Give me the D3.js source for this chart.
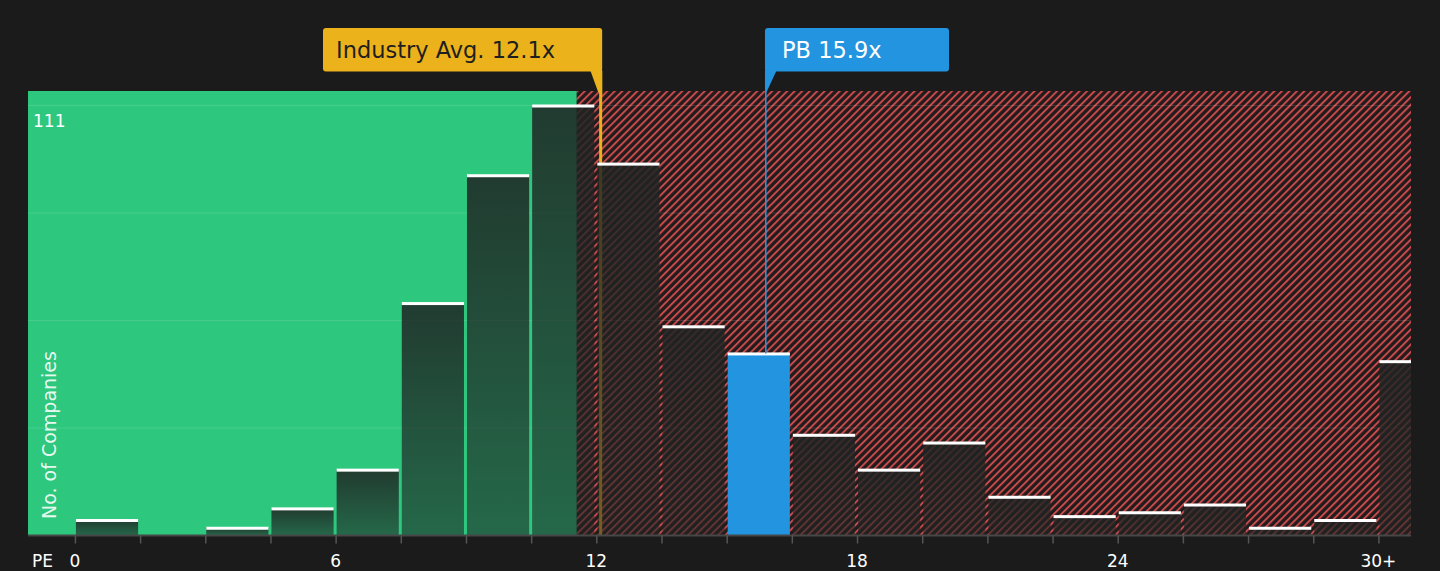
<!DOCTYPE html>
<html>
<head>
<meta charset="utf-8">
<script src="https://cdn.jsdelivr.net/npm/d3@7"></script>
<style>
  html, body { margin: 0; padding: 0; background: #1b1b1b; }
  svg { display: block; font-family: "DejaVu Sans", sans-serif; }
</style>
</head>
<body>
<svg id="chart" width="1440" height="571"></svg>
<script>
// ---- data ----
const binStarts = [0, 1.5, 3, 4.5, 6, 7.5, 9, 10.5, 12, 13.5, 15, 16.5, 18, 19.5, 21, 22.5, 24, 25.5, 27, 28.5, 30];
const binEnds   = [1.5, 3, 4.5, 6, 7.5, 9, 10.5, 12, 13.5, 15, 16.5, 18, 19.5, 21, 22.5, 24, 25.5, 27, 28.5, 30, 31.5];
const counts    = [4, 0, 2, 7, 17, 60, 93, 111, 96, 54, 47, 26, 17, 24, 10, 5, 6, 8, 2, 4, 45];
const tickEdges = [0, 1.5, 3, 4.5, 6, 7.5, 9, 10.5, 12, 13.5, 15, 16.5, 18, 19.5, 21, 22.5, 24, 25.5, 27, 28.5, 30];
const labelValues = [0, 6, 12, 18, 24, 30];
const labelTexts  = ["0", "6", "12", "18", "24", "30+"];
const gridValues  = [27.75, 55.5, 83.25, 111];
const yMaxLabel = "111";
const industryAvg = 12.1;
const industryLabel = "Industry Avg. 12.1x";
const companyValue = 15.9;
const companyLabel = "PB 15.9x";
const companyBinIndex = 10;
const fairLimit = 11.55;
const xDomain = [-1.08, 30.75];
const yDomain = [0, 111];

// ---- layout ----
const plot = { left: 28, right: 1411, top: 91, bottom: 535.5 };
const svg = d3.select("#chart");

const x = d3.scaleLinear().domain(xDomain).range([plot.left, plot.right]);
const y = d3.scaleLinear().domain(yDomain).range([plot.bottom, 105.5]);

const defs = svg.append("defs");
const pat = defs.append("pattern")
  .attr("id", "hatch").attr("patternUnits", "userSpaceOnUse")
  .attr("width", 5.3).attr("height", 5.3)
  .attr("patternTransform", "rotate(45)");
pat.append("rect").attr("width", 5.3).attr("height", 5.3).attr("fill", "#211b1b");
pat.append("line").attr("x1", 1).attr("y1", -1).attr("x2", 1).attr("y2", 6.3)
  .attr("stroke", "#cf4c4e").attr("stroke-width", 1.9);

const grad = defs.append("linearGradient").attr("id", "barGrad")
  .attr("x1", 0).attr("y1", 0).attr("x2", 0).attr("y2", 1);
grad.append("stop").attr("offset", "0%").attr("stop-color", "#1f2423").attr("stop-opacity", 0.86);
grad.append("stop").attr("offset", "100%").attr("stop-color", "#1f2423").attr("stop-opacity", 0.58);

const clip = defs.append("clipPath").attr("id", "plotClip");
clip.append("rect").attr("x", plot.left).attr("y", plot.top)
  .attr("width", plot.right - plot.left).attr("height", plot.bottom - plot.top + 1);

// background regions
svg.append("rect")
  .attr("x", plot.left).attr("y", plot.top)
  .attr("width", x(fairLimit) - plot.left).attr("height", plot.bottom - plot.top)
  .attr("fill", "#2dc77e");
svg.append("rect")
  .attr("x", x(fairLimit)).attr("y", plot.top)
  .attr("width", plot.right - x(fairLimit)).attr("height", plot.bottom - plot.top)
  .attr("fill", "url(#hatch)");

// gridlines
svg.append("g").selectAll("line").data(gridValues).join("line")
  .attr("x1", plot.left).attr("x2", plot.right)
  .attr("y1", d => y(d)).attr("y2", d => y(d))
  .attr("stroke", "rgba(255,255,255,0.12)").attr("stroke-width", 1.2);

// industry avg line (behind bars)
const yellow = "#ebb21c";
const blue = "#2394e0";
svg.append("line")
  .attr("x1", x(industryAvg)).attr("x2", x(industryAvg))
  .attr("y1", 71).attr("y2", plot.bottom)
  .attr("stroke", yellow).attr("stroke-width", 3);

// bars
const bars = binStarts.map((s, i) => ({ s, e: binEnds[i], v: counts[i], i }));
const g = svg.append("g").attr("clip-path", "url(#plotClip)");
g.selectAll("rect.bar").data(bars.filter(d => d.v > 0)).join("rect")
  .attr("class", "bar")
  .attr("x", d => x(d.s) + 1)
  .attr("width", d => x(d.e) - x(d.s) - 3)
  .attr("y", d => y(d.v))
  .attr("height", d => plot.bottom - y(d.v))
  .attr("fill", d => d.i === companyBinIndex ? blue : "url(#barGrad)");
g.selectAll("rect.cap").data(bars.filter(d => d.v > 0)).join("rect")
  .attr("class", "cap")
  .attr("x", d => x(d.s) + 1)
  .attr("width", d => x(d.e) - x(d.s) - 3)
  .attr("y", d => y(d.v) - 1)
  .attr("height", 3)
  .attr("fill", "#ffffff");

// axis
const axis = svg.append("g").attr("transform", `translate(0,${plot.bottom})`)
  .call(d3.axisBottom(x).tickValues(tickEdges).tickSize(8).tickFormat(""));
axis.select(".domain").attr("stroke", "#474747").attr("stroke-width", 2)
  .attr("d", `M${plot.left},0H${plot.right}`);
axis.selectAll(".tick line").attr("stroke", "#555").attr("stroke-width", 1.5);

svg.append("g").selectAll("text").data(labelValues).join("text")
  .attr("x", d => x(d)).attr("y", 567)
  .attr("text-anchor", "middle")
  .attr("fill", "#ffffff").attr("font-size", 17)
  .text((d, i) => labelTexts[i]);
svg.append("text").attr("x", 32).attr("y", 567)
  .attr("fill", "#ffffff").attr("font-size", 17).text("PE");

// y labels
svg.append("text").attr("x", 33).attr("y", 127)
  .attr("fill", "#ffffff").attr("font-size", 17).text(yMaxLabel);
svg.append("text")
  .attr("transform", `translate(56,519) rotate(-90)`)
  .attr("fill", "rgba(255,255,255,0.9)").attr("font-size", 19)
  .text("No. of Companies");

// company line
svg.append("line")
  .attr("x1", x(companyValue)).attr("x2", x(companyValue))
  .attr("y1", 71).attr("y2", y(counts[companyBinIndex]))
  .attr("stroke", blue).attr("stroke-width", 1.6);

// industry label box
const ix = x(industryAvg);
const iRight = ix + 1.5;
svg.append("rect").attr("x", 323).attr("y", 28).attr("width", iRight - 323).attr("height", 43.5)
  .attr("rx", 3).attr("fill", yellow);
svg.append("path")
  .attr("d", `M${iRight - 12},70 L${iRight},70 L${iRight},95 L${iRight - 4},92 Z`)
  .attr("fill", yellow);
svg.append("text").attr("x", 336).attr("y", 58)
  .attr("fill", "#1f1f1f").attr("font-size", 22.5).text(industryLabel);

// company label box
const cx = x(companyValue);
svg.append("rect").attr("x", cx - 0.8).attr("y", 28).attr("width", 949 - cx + 0.8).attr("height", 43.5)
  .attr("rx", 3).attr("fill", blue);
svg.append("path")
  .attr("d", `M${cx - 0.8},70 L${cx + 11},70 L${cx + 0.8},92 L${cx - 0.8},92 Z`)
  .attr("fill", blue);
svg.append("text").attr("x", 782).attr("y", 58)
  .attr("fill", "#ffffff").attr("font-size", 22.5).text(companyLabel);
</script>
</body>
</html>
